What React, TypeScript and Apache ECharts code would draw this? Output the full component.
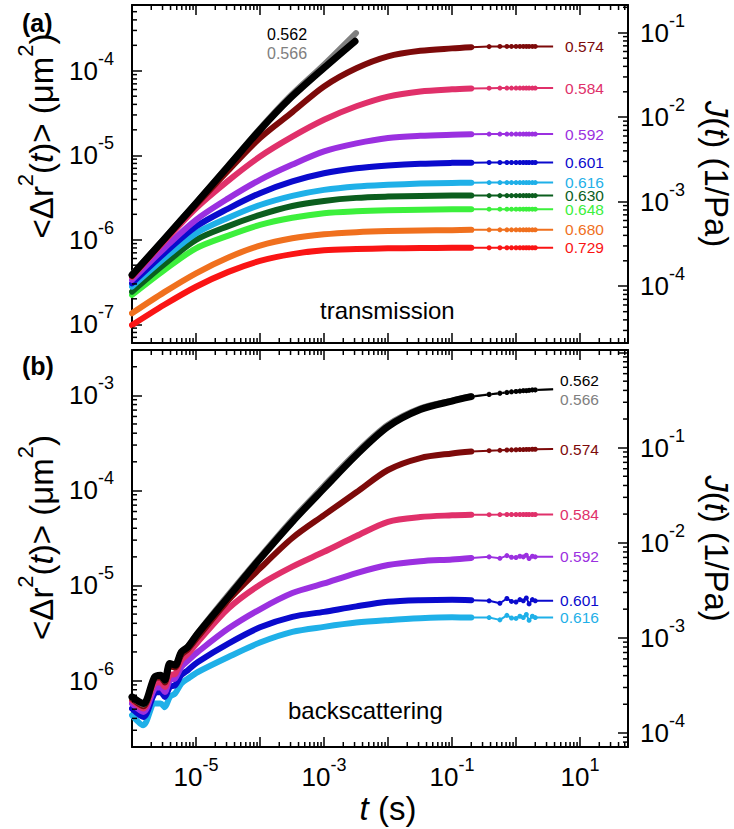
import React, { useEffect, useRef } from "react";
import * as echarts from "echarts";

const FONT = '"Liberation Sans", Arial, Helvetica, sans-serif';

// ---------- axis ranges ----------
const X_MIN = 1e-6;
const X_MAX = 56.2;
const YA_MIN = 6e-8;
const YA_MAX = 6e-4;
const JA_MIN = 2.13e-5;
const JA_MAX = 0.213;
const YB_MIN = 2e-7;
const YB_MAX = 3e-3;
const JB_MIN = 7.1e-5;
const JB_MAX = 1.064;

// ---------- tick label exponents ----------
const xLabelExps = [-5, -3, -1, 1];
const yALabelExps = [-7, -6, -5, -4];
const jALabelExps = [-4, -3, -2, -1];
const yBLabelExps = [-6, -5, -4, -3];
const jBLabelExps = [-4, -3, -2, -1];

// ---------- panel (a) transmission ----------
const tA = [1e-6, 3.2e-6, 1e-5, 3.2e-5, 1e-4, 3.2e-4, 1e-3, 3.2e-3, 1e-2, 3.2e-2, 0.1, 0.2];
const tA562 = [1e-6, 3.2e-6, 1e-5, 3.2e-5, 1e-4, 2.8e-4, 1e-3, 3.05e-3];
const tA566 = [1e-6, 3.2e-6, 1e-5, 3.2e-5, 1e-4, 2.8e-4, 1e-3, 3.16e-3];
const msdA562 = [3.83e-7, 1.02e-6, 2.7e-6, 7.41e-6, 2.0e-5, 4.54e-5, 1.08e-4, 2.23e-4];
const msdA566 = [3.9e-7, 1.04e-6, 2.75e-6, 7.6e-6, 2.07e-5, 4.8e-5, 1.18e-4, 2.79e-4];
const msdA574 = [3.72e-7, 1.0e-6, 2.58e-6, 6.61e-6, 1.6e-5, 3.24e-5, 6.52e-5, 1.07e-4, 1.48e-4, 1.72e-4, 1.84e-4, 1.9e-4];
const msdA584 = [3.63e-7, 9.55e-7, 2.36e-6, 5.01e-6, 9.66e-6, 1.66e-5, 2.63e-5, 3.8e-5, 4.95e-5, 5.69e-5, 6.03e-5, 6.17e-5];
const msdA592 = [3.34e-7, 7.94e-7, 1.72e-6, 3.09e-6, 5.12e-6, 7.76e-6, 1.11e-5, 1.38e-5, 1.6e-5, 1.7e-5, 1.75e-5, 1.77e-5];
const msdA601 = [3.05e-7, 6.92e-7, 1.43e-6, 2.34e-6, 3.56e-6, 4.9e-6, 6.12e-6, 7.0e-6, 7.55e-6, 7.94e-6, 8.13e-6, 8.18e-6];
const msdA616 = [2.79e-7, 6.03e-7, 1.19e-6, 1.82e-6, 2.58e-6, 3.31e-6, 3.89e-6, 4.27e-6, 4.47e-6, 4.62e-6, 4.71e-6, 4.74e-6];
const msdA630 = [2.43e-7, 5.13e-7, 9.95e-7, 1.45e-6, 1.97e-6, 2.51e-6, 2.88e-6, 3.13e-6, 3.24e-6, 3.3e-6, 3.33e-6, 3.33e-6];
const msdA648 = [2.22e-7, 4.37e-7, 7.92e-7, 1.12e-6, 1.5e-6, 1.82e-6, 2.06e-6, 2.17e-6, 2.23e-6, 2.26e-6, 2.29e-6, 2.3e-6];
const msdA680 = [1.35e-7, 2.4e-7, 4.01e-7, 6.17e-7, 8.51e-7, 1.04e-6, 1.16e-6, 1.23e-6, 1.27e-6, 1.29e-6, 1.3e-6, 1.31e-6];
const msdA729 = [9.77e-8, 1.7e-7, 2.78e-7, 4.17e-7, 5.62e-7, 6.76e-7, 7.5e-7, 7.76e-7, 7.91e-7, 7.98e-7, 8.02e-7, 8.05e-7];
// long-time plateaus (thin line with sparse points)
const tTail = [0.2, 0.38, 0.56, 0.72, 0.85, 1.0, 1.15, 1.3, 1.45, 1.6, 1.8, 2.0, 3.8];
const tailA574 = [1.9e-4, 1.93e-4, 1.94e-4, 1.94e-4, 1.94e-4, 1.94e-4, 1.94e-4, 1.94e-4, 1.94e-4, 1.94e-4, 1.94e-4, 1.94e-4, 1.94e-4];
const tailA584 = [6.17e-5, 6.22e-5, 6.24e-5, 6.24e-5, 6.24e-5, 6.24e-5, 6.24e-5, 6.24e-5, 6.24e-5, 6.24e-5, 6.24e-5, 6.24e-5, 6.24e-5];
const tailA592 = [1.77e-5, 1.78e-5, 1.78e-5, 1.78e-5, 1.78e-5, 1.78e-5, 1.78e-5, 1.78e-5, 1.78e-5, 1.78e-5, 1.78e-5, 1.78e-5, 1.78e-5];
const tailA601 = [8.18e-6, 8.2e-6, 8.2e-6, 8.2e-6, 8.2e-6, 8.2e-6, 8.2e-6, 8.2e-6, 8.2e-6, 8.2e-6, 8.2e-6, 8.2e-6, 8.2e-6];
const tailA616 = [4.74e-6, 4.75e-6, 4.75e-6, 4.75e-6, 4.75e-6, 4.75e-6, 4.75e-6, 4.75e-6, 4.75e-6, 4.75e-6, 4.75e-6, 4.75e-6, 4.75e-6];
const tailA630 = [3.33e-6, 3.33e-6, 3.33e-6, 3.33e-6, 3.33e-6, 3.33e-6, 3.33e-6, 3.33e-6, 3.33e-6, 3.33e-6, 3.33e-6, 3.33e-6, 3.33e-6];
const tailA648 = [2.3e-6, 2.3e-6, 2.3e-6, 2.3e-6, 2.3e-6, 2.3e-6, 2.3e-6, 2.3e-6, 2.3e-6, 2.3e-6, 2.3e-6, 2.3e-6, 2.3e-6];
const tailA680 = [1.31e-6, 1.31e-6, 1.31e-6, 1.31e-6, 1.31e-6, 1.31e-6, 1.31e-6, 1.31e-6, 1.31e-6, 1.31e-6, 1.31e-6, 1.31e-6, 1.31e-6];
const tailA729 = [8.05e-7, 8.05e-7, 8.05e-7, 8.05e-7, 8.05e-7, 8.05e-7, 8.05e-7, 8.05e-7, 8.05e-7, 8.05e-7, 8.05e-7, 8.05e-7, 8.05e-7];

// ---------- panel (b) backscattering ----------
const tB = [1e-6, 1.5e-6, 2.25e-6, 2.8e-6, 3.25e-6, 3.9e-6, 4.7e-6, 5.9e-6, 7.5e-6, 1.07e-5, 3.2e-5, 1e-4, 3.2e-4, 1e-3, 3.2e-3, 1e-2, 3.2e-2, 0.1, 0.2];
const msdB562 = [6.73e-7, 5.73e-7, 1.09e-6, 1.14e-6, 1.01e-6, 1.51e-6, 1.45e-6, 2.0e-6, 2.26e-6, 3.13e-6, 7.59e-6, 1.91e-5, 4.68e-5, 1.05e-4, 2.36e-4, 4.68e-4, 7.08e-4, 8.71e-4, 9.68e-4];
const msdB566 = [6.6e-7, 5.6e-7, 1.07e-6, 1.12e-6, 1.0e-6, 1.5e-6, 1.45e-6, 2.0e-6, 2.3e-6, 3.2e-6, 8.0e-6, 2.0e-5, 4.95e-5, 1.12e-4, 2.5e-4, 4.9e-4, 7.3e-4, 8.8e-4, 9.8e-4];
const msdB574 = [6.46e-7, 5.37e-7, 1.05e-6, 1.08e-6, 9.55e-7, 1.41e-6, 1.38e-6, 1.86e-6, 2.14e-6, 2.88e-6, 7.0e-6, 1.51e-5, 3.16e-5, 5.5e-5, 9.55e-5, 1.64e-4, 2.19e-4, 2.45e-4, 2.57e-4];
const msdB584 = [6.21e-7, 5.07e-7, 9.29e-7, 9.55e-7, 8.57e-7, 1.14e-6, 1.17e-6, 1.64e-6, 1.91e-6, 2.55e-6, 5.73e-6, 1.02e-5, 1.58e-5, 2.26e-5, 3.31e-5, 4.68e-5, 5.25e-5, 5.47e-5, 5.55e-5];
const msdB592 = [5.73e-7, 4.68e-7, 8.22e-7, 8.51e-7, 7.59e-7, 1.01e-6, 1.05e-6, 1.39e-6, 1.62e-6, 2.0e-6, 3.52e-6, 5.62e-6, 8.32e-6, 1.05e-5, 1.35e-5, 1.64e-5, 1.8e-5, 1.88e-5, 1.95e-5];
const msdB601 = [5.07e-7, 4.14e-7, 7.3e-7, 7.59e-7, 6.73e-7, 8.57e-7, 8.91e-7, 1.14e-6, 1.29e-6, 1.57e-6, 2.45e-6, 3.63e-6, 4.68e-6, 5.28e-6, 6.03e-6, 6.73e-6, 7.0e-6, 7.08e-6, 7.0e-6];
const msdB616 = [4.32e-7, 3.39e-7, 5.73e-7, 5.75e-7, 5.25e-7, 6.73e-7, 7.3e-7, 9.29e-7, 1.05e-6, 1.23e-6, 1.77e-6, 2.51e-6, 3.25e-6, 3.67e-6, 4.07e-6, 4.32e-6, 4.52e-6, 4.62e-6, 4.6e-6];
const tailB562 = [9.68e-4, 1.02e-3, 1.05e-3, 1.07e-3, 1.09e-3, 1.1e-3, 1.11e-3, 1.12e-3, 1.12e-3, 1.13e-3, 1.14e-3, 1.14e-3, 1.16e-3];
const tailB566 = [9.8e-4, 1.03e-3, 1.06e-3, 1.08e-3, 1.09e-3, 1.1e-3, 1.11e-3, 1.12e-3, 1.12e-3, 1.13e-3, 1.14e-3, 1.14e-3, 1.16e-3];
const tailB574 = [2.57e-4, 2.62e-4, 2.64e-4, 2.66e-4, 2.67e-4, 2.68e-4, 2.69e-4, 2.69e-4, 2.7e-4, 2.7e-4, 2.71e-4, 2.71e-4, 2.72e-4];
const tailB584 = [5.55e-5, 5.56e-5, 5.57e-5, 5.58e-5, 5.58e-5, 5.58e-5, 5.58e-5, 5.58e-5, 5.58e-5, 5.58e-5, 5.58e-5, 5.58e-5, 5.58e-5];
const tailB592 = [1.95e-5, 2.0e-5, 1.93e-5, 2.06e-5, 1.98e-5, 1.97e-5, 2.03e-5, 2.0e-5, 2.08e-5, 1.92e-5, 2.03e-5, 2.0e-5, 2.0e-5];
const tailB601 = [7.0e-6, 6.9e-6, 6.5e-6, 7.3e-6, 6.8e-6, 6.7e-6, 7.1e-6, 6.9e-6, 7.4e-6, 6.4e-6, 7.1e-6, 6.9e-6, 6.9e-6];
const tailB616 = [4.6e-6, 4.6e-6, 4.35e-6, 4.85e-6, 4.55e-6, 4.5e-6, 4.75e-6, 4.6e-6, 4.95e-6, 4.3e-6, 4.75e-6, 4.6e-6, 4.6e-6];

// ---------- colours ----------
const COLORS: Record<string, string> = {
  "0.562": "#000000",
  "0.566": "#808080",
  "0.574": "#7d0a0a",
  "0.584": "#e0306a",
  "0.592": "#9b30e0",
  "0.601": "#0a0acd",
  "0.616": "#1fb0e8",
  "0.630": "#0b5e1e",
  "0.648": "#3cf03c",
  "0.680": "#f0701e",
  "0.729": "#fa1414",
};

function pairs(t: number[], v: number[]) {
  return t.map((x, i) => [x, v[i]]);
}

function thick(name: string, t: number[], v: number[], xi: number, yi: number, width = 6) {
  return {
    type: "line",
    name,
    xAxisIndex: xi,
    yAxisIndex: yi,
    data: pairs(t, v),
    showSymbol: false,
    smooth: 0.3,
    silent: true,
    lineStyle: { color: COLORS[name], width, cap: "round", join: "round" },
    z: 3,
  };
}

function tail(name: string, v: number[], xi: number, yi: number, dist: number, dy: number) {
  const last = tTail.length - 1;
  return {
    type: "line",
    name: name + "-tail",
    xAxisIndex: xi,
    yAxisIndex: yi,
    data: tTail.map((t, i) => ({
      value: [t, v[i]],
      symbol: i === 0 || i === last ? "none" : "circle",
    })),
    symbol: "circle",
    symbolSize: 5,
    showSymbol: true,
    silent: true,
    itemStyle: { color: COLORS[name] },
    lineStyle: { color: COLORS[name], width: 2 },
    endLabel: {
      show: true,
      formatter: name,
      color: COLORS[name],
      fontSize: 15.5,
      lineHeight: 13,
      fontFamily: FONT,
      distance: dist,
      offset: [0, dy],
    },
    z: 2,
  };
}

function minorValues(min: number, max: number) {
  const out: number[] = [];
  for (let n = Math.floor(Math.log10(min)); n <= Math.ceil(Math.log10(max)); n++) {
    for (let k = 2; k <= 9; k++) {
      const v = k * Math.pow(10, n);
      if (v > min * 1.0001 && v < max * 0.9999) out.push(v);
    }
  }
  return out;
}

const TICK_STYLE = { stroke: "#000", lineWidth: 1.5 };

function xMinorSeries(xi: number, yi: number, yMin: number, yMax: number) {
  return {
    type: "custom",
    xAxisIndex: xi,
    yAxisIndex: yi,
    silent: true,
    z: 10,
    data: minorValues(X_MIN, X_MAX).map((v) => [v, yMin]),
    renderItem: (params: any, api: any) => {
      const v = api.value(0);
      const b = api.coord([v, yMin]);
      const t = api.coord([v, yMax]);
      return {
        type: "group",
        children: [
          { type: "line", shape: { x1: b[0], y1: b[1], x2: b[0], y2: b[1] - 5 }, style: TICK_STYLE },
          { type: "line", shape: { x1: t[0], y1: t[1], x2: t[0], y2: t[1] + 5 }, style: TICK_STYLE },
        ],
      };
    },
  };
}

function yMinorSeries(xi: number, yi: number, yMin: number, yMax: number, atX: number, dir: number) {
  return {
    type: "custom",
    xAxisIndex: xi,
    yAxisIndex: yi,
    silent: true,
    z: 10,
    data: minorValues(yMin, yMax).map((v) => [atX, v]),
    renderItem: (params: any, api: any) => {
      const p = api.coord([atX, api.value(1)]);
      return {
        type: "line",
        shape: { x1: p[0], y1: p[1], x2: p[0] + 5 * dir, y2: p[1] },
        style: TICK_STYLE,
      };
    },
  };
}

function expFormatter(exps: number[]) {
  return (v: number) => {
    const l = Math.log10(v);
    const e = Math.round(l);
    if (Math.abs(l - e) > 1e-6 || exps.indexOf(e) < 0) return "";
    return `{b|10}{s|${e}}`;
  };
}

const LABEL_RICH = {
  b: { fontSize: 26, fontFamily: FONT, color: "#000", lineHeight: 42 },
  s: { fontSize: 18, fontFamily: FONT, color: "#000", verticalAlign: "top" },
};

const NAME_RICH = {
  a: { fontSize: 33, fontFamily: FONT, color: "#000", lineHeight: 54 },
  i: { fontSize: 33, fontFamily: FONT, color: "#000", fontStyle: "italic", lineHeight: 54 },
  s: { fontSize: 22, fontFamily: FONT, color: "#000", verticalAlign: "top" },
};

const AXIS_LINE = { show: true, onZero: false, lineStyle: { color: "#000", width: 2 } };
const AXIS_TICK = { show: true, inside: true, length: 10, lineStyle: { color: "#000", width: 1.5 } };

function xAxis(gridIndex: number, position: string, showLabel: boolean, name?: string) {
  return {
    type: "log",
    logBase: 10,
    gridIndex,
    position,
    min: X_MIN,
    max: X_MAX,
    axisLine: AXIS_LINE,
    axisTick: AXIS_TICK,
    splitLine: { show: false },
    minorTick: { show: false },
    axisLabel: showLabel
      ? { show: true, margin: 9, formatter: expFormatter(xLabelExps), rich: LABEL_RICH, hideOverlap: false }
      : { show: false },
    name: name || "",
    nameLocation: "middle",
    nameGap: 34,
    nameTextStyle: { rich: NAME_RICH, padding: [0, 0, 0, 16] },
  };
}

function yAxis(
  gridIndex: number,
  position: string,
  min: number,
  max: number,
  exps: number[],
  margin: number,
  name: string,
  nameRotate: number,
  nameGap: number,
  namePad: number[]
) {
  return {
    type: "log",
    logBase: 10,
    gridIndex,
    position,
    min,
    max,
    axisLine: AXIS_LINE,
    axisTick: AXIS_TICK,
    splitLine: { show: false },
    minorTick: { show: false },
    axisLabel: { show: true, margin, formatter: expFormatter(exps), rich: LABEL_RICH, hideOverlap: false },
    name,
    nameLocation: "middle",
    nameRotate,
    nameGap,
    nameTextStyle: { rich: NAME_RICH, padding: namePad },
  };
}

const MSD_NAME = "{a|<Δr}{s|2}{a|(}{i|t}{a|)> (μm}{s|2}{a|)}";
const J_NAME = "{i|J}{a|(}{i|t}{a|) (1/Pa)}";

export default function App() {
  const ref = useRef<HTMLDivElement>(null);

  useEffect(() => {
    if (!ref.current) return;
    const chart = echarts.init(ref.current, null, { renderer: "svg" });

    const series: any[] = [];
    // panel (a): axes x0 / y0
    const aThick: [string, number[], number[]][] = [
      ["0.729", msdA729, tailA729],
      ["0.680", msdA680, tailA680],
      ["0.648", msdA648, tailA648],
      ["0.630", msdA630, tailA630],
      ["0.616", msdA616, tailA616],
      ["0.601", msdA601, tailA601],
      ["0.592", msdA592, tailA592],
      ["0.584", msdA584, tailA584],
      ["0.574", msdA574, tailA574],
    ];
    aThick.forEach(([n, v, tl]) => {
      series.push(tail(n, tl, 0, 0, 12, 0));
      series.push(thick(n, tA, v, 0, 0));
    });
    series.push(thick("0.566", tA566, msdA566, 0, 0, 6));
    series.push(thick("0.562", tA562, msdA562, 0, 0, 7));

    // panel (b): axes x2 / y2
    const bThick: [string, number[], number[], number][] = [
      ["0.616", msdB616, tailB616, 0],
      ["0.601", msdB601, tailB601, 0],
      ["0.592", msdB592, tailB592, 0],
      ["0.584", msdB584, tailB584, 0],
      ["0.574", msdB574, tailB574, 0],
      ["0.566", msdB566, tailB566, 10],
      ["0.562", msdB562, tailB562, -9],
    ];
    bThick.forEach(([n, v, tl, dy]) => {
      series.push(tail(n, tl, 2, 2, 7, dy));
      series.push(thick(n, tB, v, 2, 2, n === "0.562" ? 7 : 6));
    });

    // minor ticks
    series.push(xMinorSeries(0, 0, YA_MIN, YA_MAX));
    series.push(xMinorSeries(2, 2, YB_MIN, YB_MAX));
    series.push(yMinorSeries(0, 0, YA_MIN, YA_MAX, X_MIN, 1));
    series.push(yMinorSeries(0, 1, JA_MIN, JA_MAX, X_MAX, -1));
    series.push(yMinorSeries(2, 2, YB_MIN, YB_MAX, X_MIN, 1));
    series.push(yMinorSeries(2, 3, JB_MIN, JB_MAX, X_MAX, -1));

    const option: any = {
      animation: false,
      backgroundColor: "#ffffff",
      grid: [
        { left: 132, top: 5, width: 496, height: 338, outerBoundsMode: "none", containLabel: false },
        { left: 132, top: 350, width: 496, height: 397, outerBoundsMode: "none", containLabel: false },
      ],
      xAxis: [
        xAxis(0, "bottom", false),
        xAxis(0, "top", false),
        xAxis(1, "bottom", true, "{i|t}{a| (s)}"),
        xAxis(1, "top", false),
      ],
      yAxis: [
        yAxis(0, "left", YA_MIN, YA_MAX, yALabelExps, 18, MSD_NAME, 90, 62, [0, 0, 0, 76]),
        yAxis(0, "right", JA_MIN, JA_MAX, jALabelExps, 12, J_NAME, -90, 61, [0, 0, 0, 0]),
        yAxis(1, "left", YB_MIN, YB_MAX, yBLabelExps, 18, MSD_NAME, 90, 62, [0, 0, 0, 22]),
        yAxis(1, "right", JB_MIN, JB_MAX, jBLabelExps, 12, J_NAME, -90, 61, [0, 0, 0, 0]),
      ],
      graphic: [
        { type: "text", left: 22, top: 10, style: { text: "(a)", font: `bold 25px ${FONT}`, fill: "#000" } },
        { type: "text", left: 22, top: 353, style: { text: "(b)", font: `bold 25px ${FONT}`, fill: "#000" } },
        { type: "text", left: 320, top: 298, style: { text: "transmission", font: `24px ${FONT}`, fill: "#000" } },
        { type: "text", left: 288, top: 698, style: { text: "backscattering", font: `24px ${FONT}`, fill: "#000" } },
        { type: "text", left: 267, top: 26, style: { text: "0.562", font: `16px ${FONT}`, fill: COLORS["0.562"] } },
        { type: "text", left: 267, top: 45, style: { text: "0.566", font: `16px ${FONT}`, fill: COLORS["0.566"] } },
      ],
      series,
    };
    chart.setOption(option);
    return () => chart.dispose();
  }, []);

  return (
    <div
      ref={ref}
      style={{ position: "fixed", left: 0, top: 0, width: 734, height: 829, background: "#fff" }}
    />
  );
}
